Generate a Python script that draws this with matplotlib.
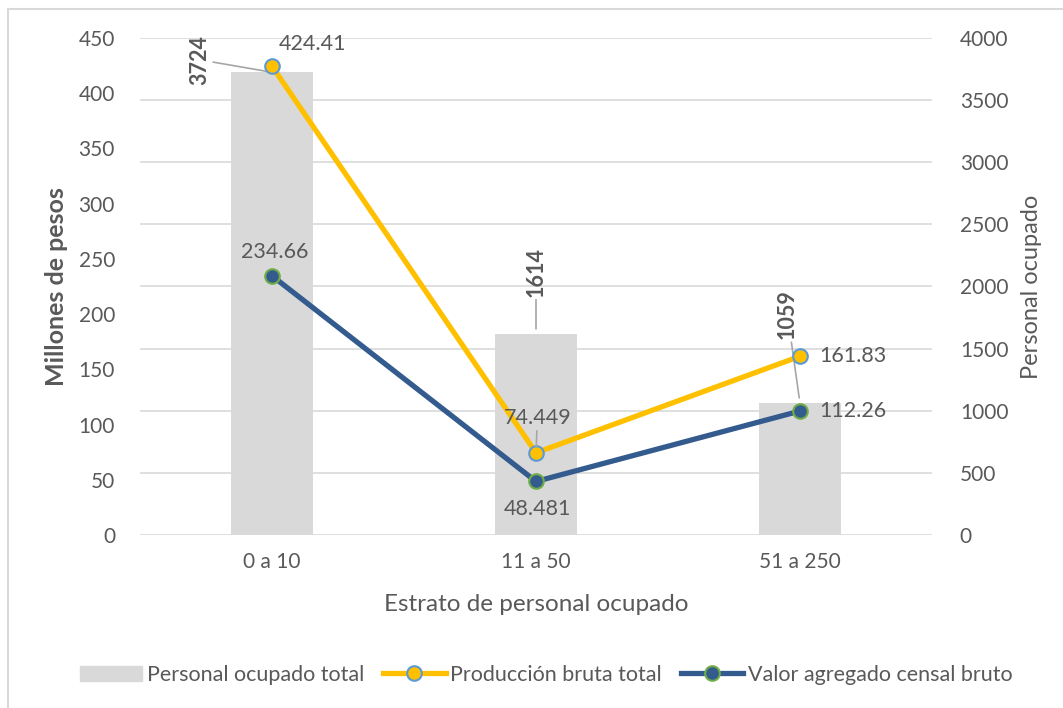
import matplotlib.pyplot as plt
from matplotlib.patches import Rectangle

plt.rcParams['font.family'] = ['Lato', 'DejaVu Sans']

categories = ["0 a 10", "11 a 50", "51 a 250"]
personal = [3724, 1614, 1059]
produccion = [424.41, 74.449, 161.83]
valor = [234.66, 48.481, 112.26]

produccion_labels = ["424.41", "74.449", "161.83"]
valor_labels = ["234.66", "48.481", "112.26"]

text_color = "#595959"
grid_color = "#D9D9D9"
bar_color = "#D9D9D9"
yellow = "#FFC000"
blue = "#335B8E"

fig = plt.figure(figsize=(10.63, 7.08), dpi=100)
ax = fig.add_axes([140 / 1063, 1 - 535 / 708, 792 / 1063, 497 / 708])
ax2 = ax.twinx()

x = list(range(len(categories)))

# bars on the secondary axis, lines on the primary axis
ax2.bar(x, personal, width=0.31, color=bar_color, zorder=1)
ax.set_zorder(ax2.get_zorder() + 1)
ax.patch.set_visible(False)

ax.plot(x, produccion, color=yellow, lw=3.8, marker="o", ms=10.5,
        mfc=yellow, mec="#5B9BD5", mew=1.5, zorder=4, solid_capstyle="round")
ax.plot(x, valor, color=blue, lw=3.8, marker="o", ms=10.5,
        mfc=blue, mec="#70AD47", mew=1.5, zorder=4, solid_capstyle="round")

ax.set_xlim(-0.5, 2.5)
ax.set_ylim(0, 450)
ax2.set_ylim(0, 4000)
ax.set_yticks(range(0, 451, 50))
ax2.set_yticks(range(0, 4001, 500))
ax.set_xticks(x)
ax.set_xticklabels(categories)

ax2.yaxis.grid(True, color=grid_color, lw=1.2)
ax2.set_axisbelow(True)

for a in (ax, ax2):
    for s in a.spines.values():
        s.set_visible(False)
    a.tick_params(length=0, labelsize=15, colors=text_color)
ax.tick_params(axis="y", pad=18)
ax2.tick_params(axis="y", pad=20)
ax.tick_params(axis="x", pad=12)

ax.set_ylabel("Millones de pesos", fontsize=18, fontweight="bold", color=text_color, labelpad=8)
ax2.set_ylabel("Personal ocupado", fontsize=17, color=text_color, labelpad=9)
ax.set_xlabel("Estrato de personal ocupado", fontsize=17.5, color=text_color, labelpad=16)

line_props = dict(arrowstyle="-", color="#A6A6A6", lw=1.2, shrinkA=0, shrinkB=4)

# bar labels (rotated, bold)
bar_offsets = [(-52, 9), (0, 45), (-9, 64)]
for i, v in enumerate(personal):
    ax2.annotate(str(v), xy=(i, v), xytext=bar_offsets[i], textcoords="offset points",
                 rotation=90, ha="center", va="center", fontsize=15.5, fontweight="bold",
                 color=text_color, arrowprops=line_props, zorder=5)

prod_offsets = [(29, 16), (1, 25), (38, 0)]
for i, v in enumerate(produccion):
    ax.annotate(produccion_labels[i], xy=(i, v), xytext=prod_offsets[i], textcoords="offset points",
                ha="center", va="center", fontsize=15.5, color=text_color,
                arrowprops=line_props if i == 1 else None, zorder=6)

valor_offsets = [(2, 17), (1, -20), (38, 0)]
for i, v in enumerate(valor):
    ax.annotate(valor_labels[i], xy=(i, v), xytext=valor_offsets[i], textcoords="offset points",
                ha="center", va="center", fontsize=15.5, color=text_color, zorder=6)

handles = [
    Rectangle((0, 0), 1, 1, color=bar_color),
    plt.Line2D([], [], color=yellow, lw=3.8, marker="o", ms=10.5, mfc=yellow, mec="#5B9BD5", mew=1.5),
    plt.Line2D([], [], color=blue, lw=3.8, marker="o", ms=10.5, mfc=blue, mec="#70AD47", mew=1.5),
]
labels = ["Personal ocupado total", "Producción bruta total", "Valor agregado censal bruto"]
leg = fig.legend(handles, labels, loc="center", bbox_to_anchor=(546 / 1063, 1 - 675 / 708),
                 ncol=3, frameon=False, fontsize=15.5, handlelength=2.9, handletextpad=0.2,
                 columnspacing=0.9)
for t in leg.get_texts():
    t.set_color(text_color)

# outer chart border
fig.add_artist(Rectangle((8 / 1063, -0.1), 1.2, 1 - 9 / 708 + 0.1, transform=fig.transFigure,
                         fill=False, ec="#D9D9D9", lw=1.5))

fig.savefig("out.png", dpi=100)
